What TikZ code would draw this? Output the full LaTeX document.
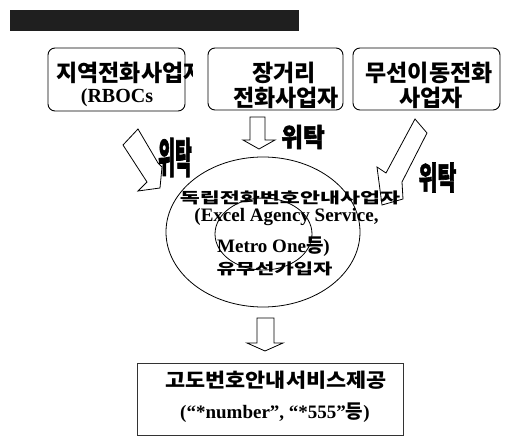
\documentclass[tikz,border=0pt]{standalone}
\usepackage{fontspec}
\usepackage{graphicx}
\usetikzlibrary{shapes.geometric}
\setmainfont{Liberation Serif}
\newfontfamily\kr{Noto Sans CJK KR}
\newfontfamily\krh{Noto Sans CJK KR}[BoldFeatures={FakeBold=2}]
\begin{document}
\begin{tikzpicture}[x=1pt,y=-1pt,
  rbox/.style={draw, rounded corners=7pt, line width=0.9pt, inner sep=0pt},
  sbox/.style={draw, line width=0.9pt, inner sep=0pt},
  ktext/.style={font=\kr\bfseries\fontsize{23}{24}\selectfont, inner sep=0pt},
  ltext/.style={font=\bfseries\fontsize{20}{22}\selectfont, inner sep=0pt},
  etext/.style={font=\kr\bfseries\fontsize{15}{16}\selectfont, inner sep=0pt},
  elat/.style={font=\bfseries\fontsize{19}{20}\selectfont, inner sep=0pt},
  wtext/.style={font=\krh\bfseries\fontsize{20}{20}\selectfont, inner sep=0pt},
  barrow/.style={draw, fill=white, line width=0.8pt, line join=miter},
  ring/.style={draw, ellipse, line width=0.8pt, inner sep=0pt}]
\useasboundingbox (0,0) rectangle (512,436);

% title bar
\fill[black!88] (10,10) rectangle (299,31);

% top boxes
\node[rbox, minimum width=137pt, minimum height=63pt] (b1) at (116.5,79.5) {};
\node[rbox, minimum width=135pt, minimum height=62pt] (b2) at (275.5,79) {};
\node[rbox, minimum width=147pt, minimum height=62pt] (b3) at (426.5,79) {};

\begin{scope}
  \clip (0,40) rectangle (192,120);
  \node[ktext] (b1a) at (130.5,72.5) {지역전화사업자};
\end{scope}
\node[ltext] (b1b) at (117,97.5) {(RBOCs};
\node[ktext] (b2a) at (284,72.5) {장거리};
\node[ktext] (b2b) at (286,97.5) {전화사업자};
\node[ktext] (b3a) at (429,72.5) {무선이동전화};
\node[ktext] (b3b) at (431,97.5) {사업자};

% ellipses
\node[ring, minimum width=194pt, minimum height=150pt] (outer) at (263,232) {};
\node[ring, minimum width=97pt, minimum height=72pt] (inner) at (263.5,234) {};

% block arrows
\draw[barrow] (123,145) -- (147,182) -- (138,191) -- (160,188) -- (162,167) -- (158,163) -- (138,129) -- cycle;
\draw[barrow] (250,117) -- (265,117) -- (265,140) -- (275,140) -- (259,149) -- (243,140) -- (250,140) -- cycle;
\draw[barrow] (415,119) -- (427,133) -- (402,182) -- (403,199) -- (382,205) -- (377,167) -- (386,173) -- cycle;
\draw[barrow] (257,318) -- (274,318) -- (274,343) -- (283,343) -- (265,351) -- (247,343) -- (257,343) -- cycle;

% labels
\node[wtext] (w1) at (175,157.5) {\scalebox{0.92}[2.1]{위탁}};
\node[wtext] (w2) at (303,137) {\scalebox{1.18}[1.3]{위탁}};
\node[wtext] (w3) at (437.5,177.5) {\scalebox{1.03}[1.6]{위탁}};

% ellipse texts
\node[etext] (e1) at (290,197.5) {\scalebox{1.45}[1]{독립전화번호안내사업자}};
\node[elat] (e2) at (286.5,217.5) {(Excel Agency Service,};
\node[elat, anchor=west] (e3) at (217,247) {Metro One{\kr 등})};
\node[etext] (e4) at (274.5,269) {\scalebox{1.4}[1]{유무선가입자}};

% bottom box
\node[sbox, minimum width=266pt, minimum height=72pt, draw=black!80] (res) at (270,399) {};
\node[ktext, font=\kr\bfseries\fontsize{19.5}{20}\selectfont] (r1) at (276,380) {\scalebox{1.12}[1]{고도번호안내서비스제공}};
\node[elat] (r2) at (275,413) {(“*number”, “*555”{\kr 등})};
\end{tikzpicture}
\end{document}
